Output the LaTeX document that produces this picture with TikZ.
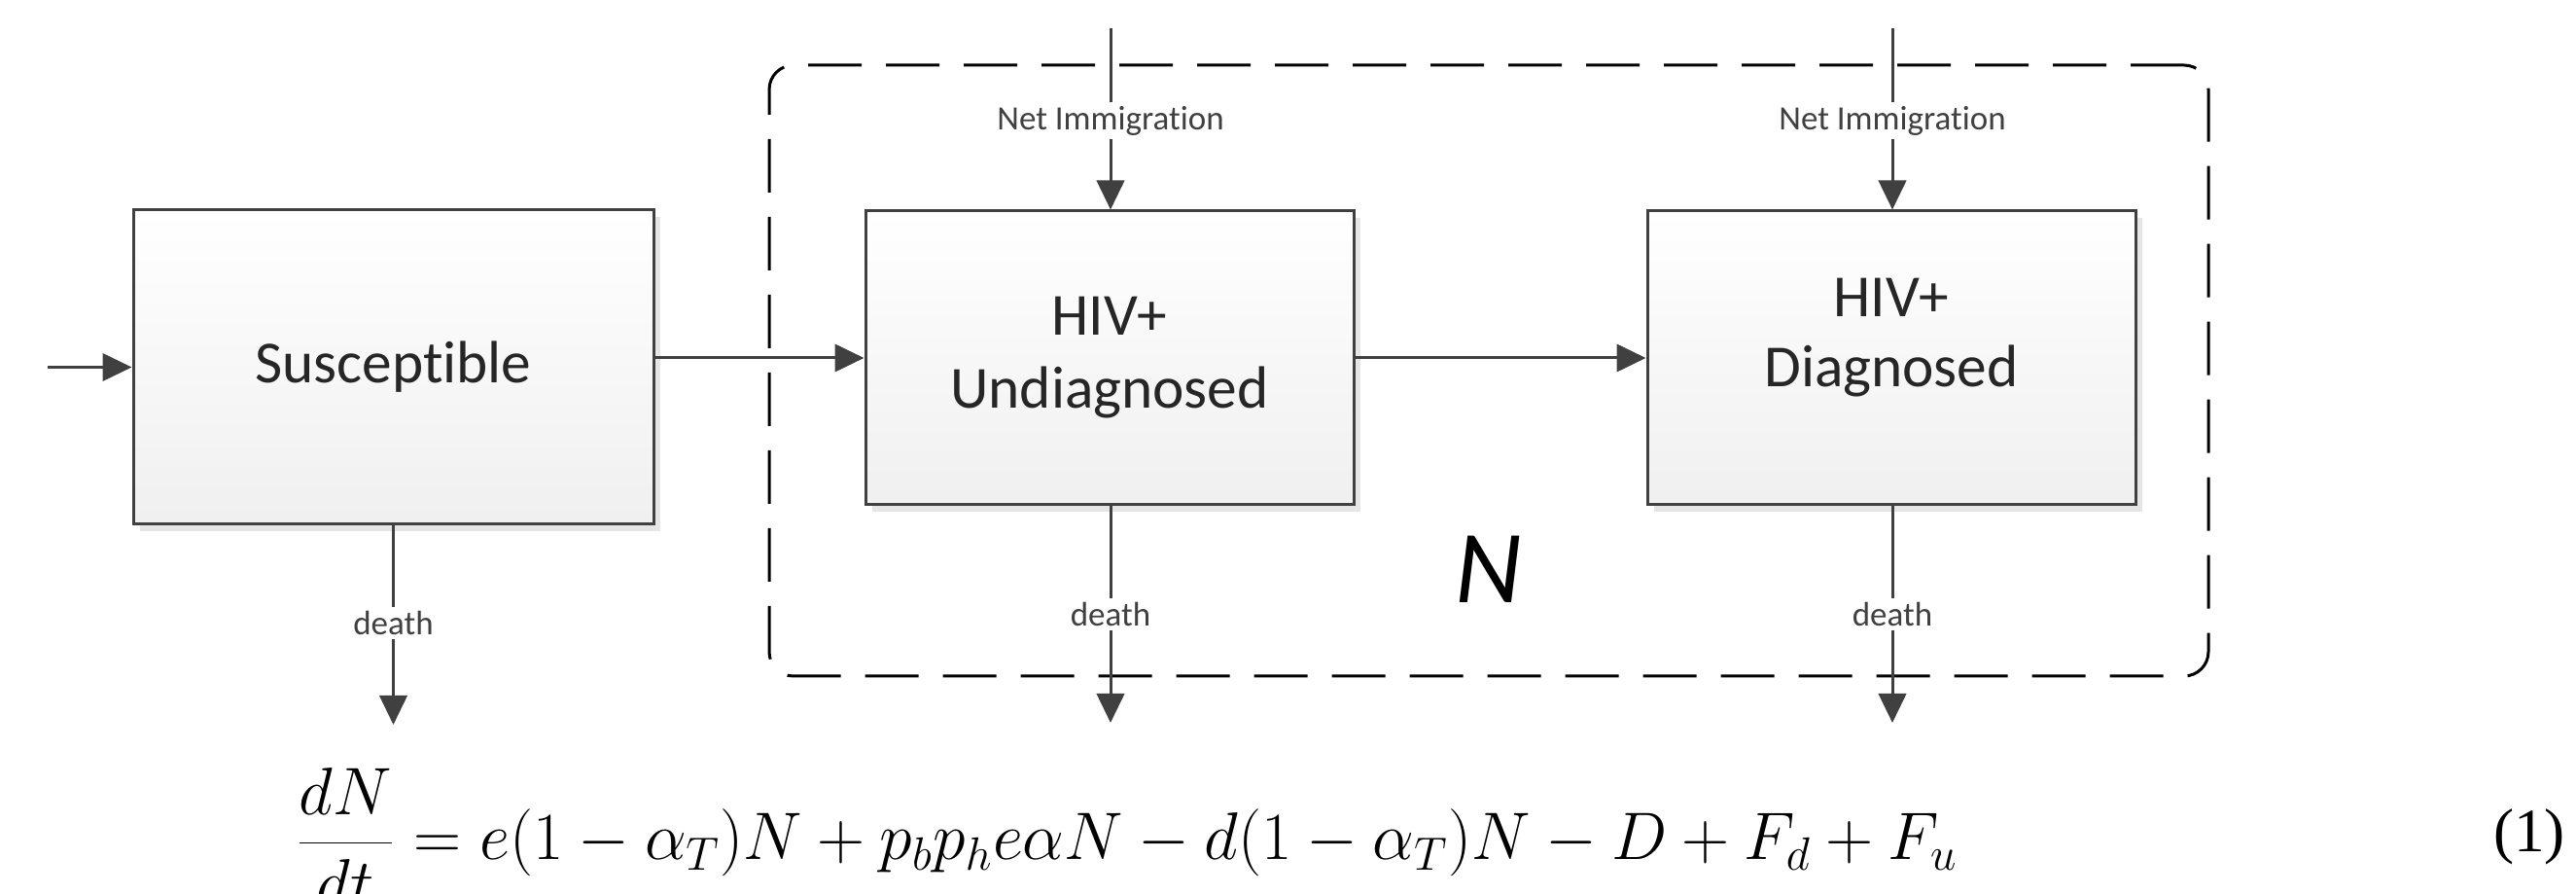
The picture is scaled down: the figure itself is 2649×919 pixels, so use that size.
\documentclass[tikz,border=0pt]{standalone}
\usepackage[no-math]{fontspec}
\setmainfont[Ligatures=NoCommon]{Carlito}
\newfontfamily\tnr{Liberation Serif}
\usetikzlibrary{arrows.meta,shadows}
\definecolor{ln}{HTML}{404040}
\tikzset{
  box/.style={draw=ln, line width=0.9pt, top color=white, bottom color=black!6,
    drop shadow={fill=black!10, opacity=1, shadow xshift=2.1pt, shadow yshift=-2.1pt},
    font=\fontsize{18.4}{22.5}\selectfont, text=black!85, align=center, inner sep=0pt},
  arr/.style={draw=ln, line width=0.9pt, -{Triangle[length=9pt,width=8.5pt]}},
  lbl/.style={fill=white, inner xsep=1pt, inner ysep=1.3pt, font=\fontsize{10.5}{12}\selectfont, text=ln},
  grpbox/.style={draw=black, line width=0.9pt, dash pattern=on 16.5pt off 7.5pt,
    rounded corners=7.5pt, inner sep=0pt},
}
\begin{document}
\begin{tikzpicture}[x=0.3pt,y=-0.3pt]
\useasboundingbox (0,0) rectangle (2649,919);
% group box
\node[grpbox, minimum width=444pt, minimum height=188.4pt] (grp) at (1531,381) {};
% boxes
\node[box, minimum width=160.5pt, minimum height=96.9pt] (sus) at (404.5,377.5) {Susceptible};
\node[box, minimum width=150.6pt, minimum height=90.6pt] (und) at (1141,368) {HIV+\\Undiagnosed};
\node[box, minimum width=150.6pt, minimum height=90.6pt] (dia) at (1945,368) {};
\node[font=\fontsize{18.4}{21.6}\selectfont, text=black!85, align=center, inner sep=0pt] (diatxt) at (1945,347) {HIV+\\Diagnosed};
% free ends
\coordinate (src) at (49,377.5);
\coordinate (ni1) at (1142,29);
\coordinate (ni2) at (1946,29);
\coordinate (d0) at (404.5,745);
\coordinate (d1) at (1142,743);
\coordinate (d2) at (1946,743);
% connectors
\draw[arr] (src) -- (sus.west);
\draw[arr] (sus.east |- und.west) -- (und.west);
\draw[arr] (und.east) -- (dia.west);
\draw[arr] (ni1) -- node[lbl, pos=0.51] (nil1) {Net Immigration} (ni1 |- und.north);
\draw[arr] (ni2) -- node[lbl, pos=0.51] (nil2) {Net Immigration} (ni2 |- dia.north);
\draw[arr] (d0 |- sus.south) -- node[lbl, pos=0.49] (dl0) {death} (d0);
\draw[arr] (d1 |- und.south) -- node[lbl, pos=0.5] (dl1) {death} (d1);
\draw[arr] (d2 |- dia.south) -- node[lbl, pos=0.5] (dl2) {death} (d2);
% N label
\node[font=\itshape\fontsize{32}{36}\selectfont, inner sep=0pt] (nlab) at (1531,585) {N};
% equation
\node[anchor=base west, inner sep=0pt, font=\fontsize{20.2}{24}\selectfont] (eq) at (303,884)
  {\scalebox{0.985}[1]{$\displaystyle\frac{dN}{dt}=e(1-\alpha_T)N+p_bp_he\alpha N-d(1-\alpha_T)N-D+F_d+F_u$}};
\node[font=\tnr\fontsize{19}{22}\selectfont, inner sep=0pt] (num) at (2601,860) {(1)};
\end{tikzpicture}
\end{document}
